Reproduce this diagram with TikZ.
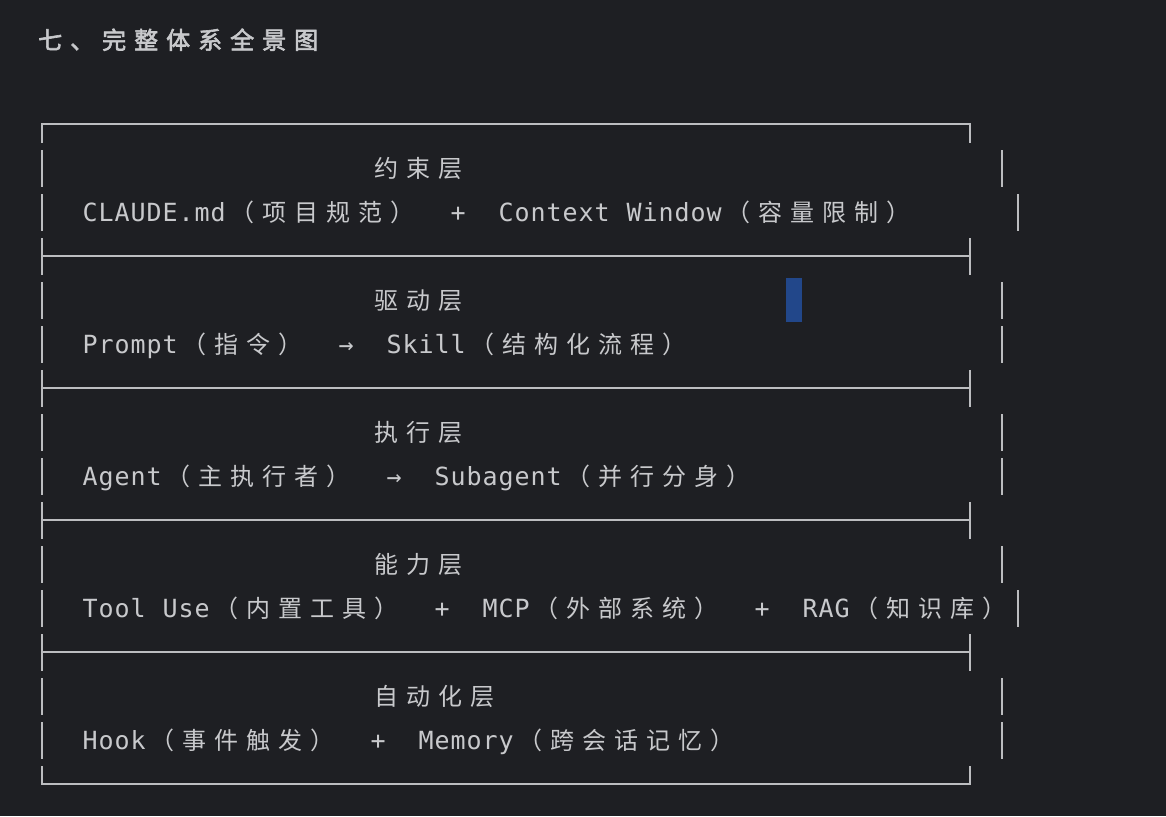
\documentclass[tikz,border=0pt]{standalone}
\usepackage{fontspec}
\usepackage{xcolor}
\usepackage{tikz}
\setmonofont{DejaVu Sans Mono}
\newfontfamily\hanzi{Noto Sans CJK SC}
\newfontfamily\hanzibf[FakeBold=2.5]{Noto Sans CJK SC}
\definecolor{term}{HTML}{1E1F23}
\definecolor{ink}{HTML}{C8C9CC}
\definecolor{frame}{HTML}{BCBDC0}
\definecolor{caret}{HTML}{22478A}
% one terminal cell per character
\def\narrowloop#1{\ifx#1\relax\else\makebox[16pt]{#1}\expandafter\narrowloop\fi}
\def\wideloop#1{\ifx#1\relax\else\makebox[32pt]{#1}\expandafter\wideloop\fi}
\newcommand\A[1]{{\ttfamily\fontsize{25}{30}\selectfont\narrowloop#1\relax}}
\newcommand\C[1]{{\hanzi\fontsize{24}{30}\selectfont\wideloop#1\relax}}
\tikzset{
  ln/.style={anchor=base west,inner sep=0pt,text=ink},
  rule/.style={draw=frame,line width=2pt}
}
\begin{document}
\begin{tikzpicture}[x=1pt,y=-1pt]
  \fill[term] (0,0) rectangle (1166,816);
  \useasboundingbox (0,0) rectangle (1166,816);
  \node[ln] (title) at (34,49) {{\hanzibf\fontsize{24}{30}\selectfont\wideloop 七、完整体系全景图\relax}};
  % frame
  \draw[rule] (42,143) -- (42,124) -- (970,124) -- (970,143);
  \draw[rule] (42,766) -- (42,784) -- (970,784) -- (970,766);
  \foreach \r in {1,...,14} \draw[rule] (42,124+44*\r-18) -- ++(0,37);
  \foreach \y in {256,388,520,652} {
    \draw[rule] (42,\y) -- (970,\y);
    \draw[rule] (970,\y-18) -- (970,\y+19);
  }
  \foreach \y in {168,300,344,432,476,564,696,740} \draw[rule] (1002,\y-18) -- ++(0,37);
  \foreach \y in {212,608} \draw[rule] (1018,\y-18) -- ++(0,37);
  % layers
  \node[ln] (t1) at (370,177) {\C{约束层}};
  \node[ln] (l1) at (82,221) {\A{CLAUDE.md}\C{（项目规范）}\A{~~+~~Context~Window}\C{（容量限制）}};
  \node[ln] (t2) at (370,309) {\C{驱动层}};
  \node[ln] (l2) at (82,353) {\A{Prompt}\C{（指令）}\A{~~→~~Skill}\C{（结构化流程）}};
  \node[ln] (t3) at (370,441) {\C{执行层}};
  \node[ln] (l3) at (82,485) {\A{Agent}\C{（主执行者）}\A{~~→~~Subagent}\C{（并行分身）}};
  \node[ln] (t4) at (370,573) {\C{能力层}};
  \node[ln] (l4) at (82,617) {\A{Tool~Use}\C{（内置工具）}\A{~~+~~MCP}\C{（外部系统）}\A{~~+~~RAG}\C{（知识库）}};
  \node[ln] (t5) at (370,705) {\C{自动化层}};
  \node[ln] (l5) at (82,749) {\A{Hook}\C{（事件触发）}\A{~~+~~Memory}\C{（跨会话记忆）}};
  \fill[caret] (786,278) rectangle (802,322);
\end{tikzpicture}
\end{document}
